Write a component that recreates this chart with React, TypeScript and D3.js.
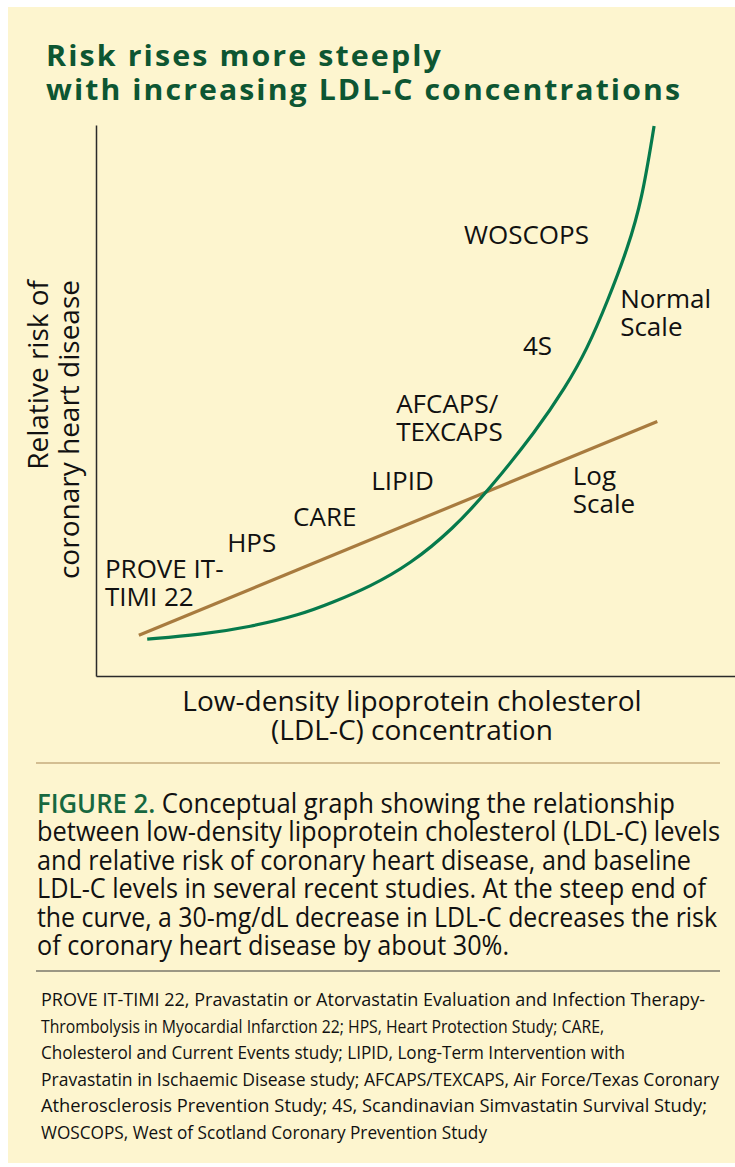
import * as d3 from 'd3';
import { useEffect, useRef } from 'react';

// conceptual LDL-C level (x) vs relative risk (y), both on a 0-100 scale
const normalLdl = [8, 16.3, 24.1, 31.9, 36.9, 42.8, 49.1, 55.8, 61.4, 68.9, 73.3, 76.7, 80, 83.1, 85.3, 87.2];
const normalRisk = [6.7, 7.5, 8.9, 11.1, 13.3, 16.2, 20.3, 26.7, 33.8, 44.7, 52.3, 59.2, 68.2, 77.7, 86.4, 99.8];

const logLdl = [6.7, 87.7];
const logRisk = [7.4, 46.2];

// study baselines + curve names, placed in data units
const studyNames = [['PROVE IT-', 'TIMI 22'], ['HPS'], ['CARE'], ['LIPID'], ['AFCAPS/', 'TEXCAPS'], ['4S'], ['WOSCOPS'], ['Normal', 'Scale'], ['Log', 'Scale']];
const studyLdl = [1.4, 20.5, 30.8, 43.0, 46.9, 66.7, 57.5, 81.9, 74.5];
const studyRisk = [17.8, 22.5, 27.2, 33.8, 47.7, 58.3, 78.4, 66.8, 34.7];

const titleLines = ['Risk rises more steeply', 'with increasing LDL-C concentrations'];
const xLabelLines = ['Low-density lipoprotein cholesterol', '(LDL-C) concentration'];
const yLabelLines = ['Relative risk of', 'coronary heart disease'];

const captionLines = [
    'Conceptual graph showing the relationship',
    'between low-density lipoprotein cholesterol (LDL-C) levels',
    'and relative risk of coronary heart disease, and baseline',
    'LDL-C levels in several recent studies. At the steep end of',
    'the curve, a 30-mg/dL decrease in LDL-C decreases the risk',
    'of coronary heart disease by about 30%.',
];
const captionWidths = [638, 683, 654, 669, 680, 472];

const footLines = [
    'PROVE IT-TIMI 22, Pravastatin or Atorvastatin Evaluation and Infection Therapy-',
    'Thrombolysis in Myocardial Infarction 22; HPS, Heart Protection Study; CARE,',
    'Cholesterol and Current Events study; LIPID, Long-Term Intervention with',
    'Pravastatin in Ischaemic Disease study; AFCAPS/TEXCAPS, Air Force/Texas Coronary',
    'Atherosclerosis Prevention Study; 4S, Scandinavian Simvastatin Survival Study;',
    'WOSCOPS, West of Scotland Coronary Prevention Study',
];
const footWidths = [664, 563, 584, 678, 666, 446];

const W = 735;
const H = 1167;
const plot = { left: 96, right: 736, top: 125, bottom: 676 };
const font = '"Open Sans", "Noto Sans", sans-serif';

function App() {
    const xAxis = useRef(null);
    const yAxis = useRef(null);

    const xScale = d3.scaleLinear().domain([0, 100]).range([plot.left, plot.right]);
    const yScale = d3.scaleLinear().domain([0, 100]).range([plot.bottom, plot.top]);

    const normalPath = d3.line().x((d) => xScale(d[0])).y((d) => yScale(d[1]))
        .curve(d3.curveBasis)(normalLdl.map((v, i) => [v, normalRisk[i]]));
    const logPath = d3.line().x((d) => xScale(d[0])).y((d) => yScale(d[1]))(logLdl.map((v, i) => [v, logRisk[i]]));

    useEffect(() => {
        const axisBottom = d3.axisBottom(xScale).tickValues([]).tickSizeOuter(0);
        const axisLeft = d3.axisLeft(yScale).tickValues([]).tickSizeOuter(0);
        d3.select(xAxis.current).call(axisBottom)
            .select('.domain').attr('stroke', '#2a2a2a').attr('stroke-width', 1.5);
        d3.select(yAxis.current).call(axisLeft)
            .select('.domain').attr('stroke', '#2a2a2a').attr('stroke-width', 1.5);
    }, []);

    return <svg width={W} height={H} style={{ position: 'absolute', left: 0, top: 0 }} fontFamily={font}>
        <rect x={0} y={0} width={W} height={H} fill='#ffffff' />
        <rect x={8} y={7} width={W - 8} height={1156} fill='#fdf5cf' />

        {titleLines.map((t, i) => (
            <text key={t} x={46} y={66 + i * 34} fontSize={29} fontWeight={700} fill='#0d5632'
                letterSpacing={2} textLength={i === 0 ? 397 : 636} lengthAdjust='spacingAndGlyphs'>{t}</text>
        ))}

        <g ref={xAxis} transform={`translate(0, ${plot.bottom})`}></g>
        <g ref={yAxis} transform={`translate(${plot.left}, 0)`}></g>

        <path d={logPath} fill='none' stroke='#a87b3f' strokeWidth={3.2} />
        <path d={normalPath} fill='none' stroke='#067a4c' strokeWidth={3.2} />

        {studyNames.map((lines, i) => (
            <text key={i} x={xScale(studyLdl[i])} y={yScale(studyRisk[i])} fontSize={26} fill='#111'>
                {lines.map((l, j) => <tspan key={j} x={xScale(studyLdl[i])} dy={j === 0 ? 0 : 28}>{l}</tspan>)}
            </text>
        ))}

        {xLabelLines.map((t, i) => (
            <text key={t} x={412} y={711 + i * 29} fontSize={28} textAnchor='middle' fill='#111'>{t}</text>
        ))}
        {yLabelLines.map((t, i) => (
            <text key={t} transform={`translate(${48 + i * 31}, 280) rotate(-90)`} fontSize={28} textAnchor='end' fill='#111'>{t}</text>
        ))}

        <line x1={36} x2={720} y1={763} y2={763} stroke='#a98856' strokeWidth={1.2} />
        {captionLines.map((t, i) => (
            <text key={i} x={37} y={813 + i * 28.4} fontSize={26.5} fill='#111'
                textLength={captionWidths[i]} lengthAdjust='spacingAndGlyphs'>
                {i === 0 && <tspan fill='#17683f' fontWeight={600}>FIGURE 2. </tspan>}
                {t}
            </text>
        ))}

        <line x1={36} x2={720} y1={971} y2={971} stroke='#3a3a3a' strokeWidth={1.2} />
        {footLines.map((t, i) => (
            <text key={i} x={41} y={1006 + i * 26.6} fontSize={18} fill='#111'
                textLength={footWidths[i]} lengthAdjust='spacingAndGlyphs'>{t}</text>
        ))}
    </svg>
};

export default App;
